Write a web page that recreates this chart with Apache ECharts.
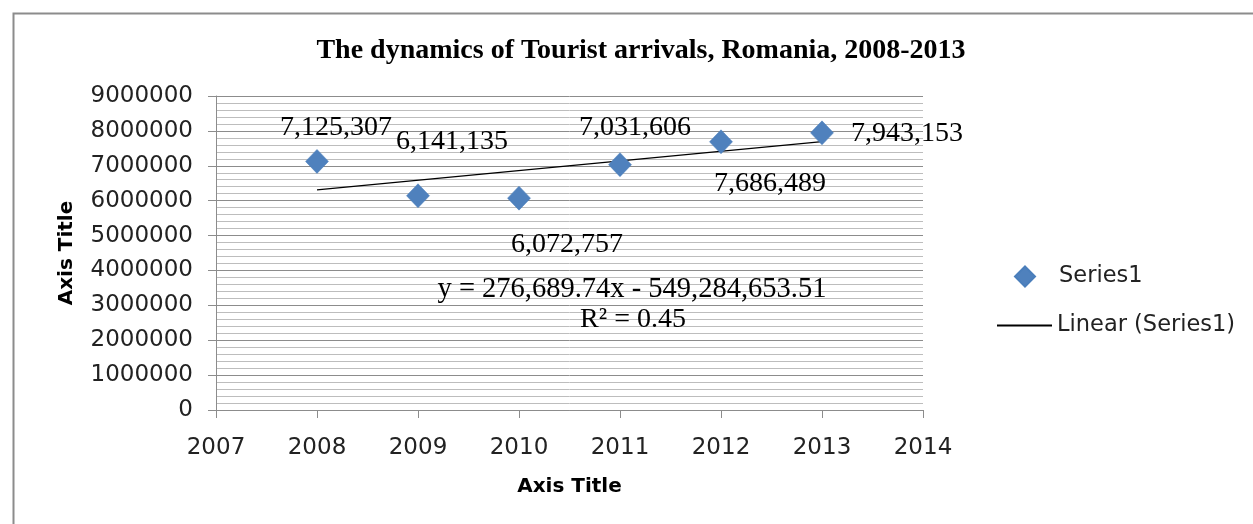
<!DOCTYPE html>
<html>
<head>
<meta charset="utf-8">
<script src="https://cdn.jsdelivr.net/npm/echarts@6/dist/echarts.min.js"></script>
<style>html,body{margin:0;padding:0;background:#fff;}#c{width:1253px;height:524px;}</style>
</head>
<body>
<div id="c"></div>
<script>
const years = [2008, 2009, 2010, 2011, 2012, 2013];
const arrivals = [7125307, 6141135, 6072757, 7031606, 7686489, 7943153];
const xTicks = [2007, 2008, 2009, 2010, 2011, 2012, 2013, 2014];
const yTicks = [0, 1000000, 2000000, 3000000, 4000000, 5000000, 6000000, 7000000, 8000000, 9000000];
const trendSlope = 276689.74;
const trendIntercept = -549284653.51;
const rSquared = 0.45;
const labelOffsets = [[19, -34], [34, -54], [48, 47], [15, -37], [49, 42], [85, 1]];

const fmt = v => v.toLocaleString('en-US');
const serif = "'Liberation Serif', 'Times New Roman', serif";
const sans = "'DejaVu Sans', sans-serif";

const scatterData = years.map((y, i) => ({
  value: [y, arrivals[i]],
  label: { offset: labelOffsets[i] }
}));
const trendData = [years[0], years[years.length - 1]].map(x => [x, trendSlope * x + trendIntercept]);

const chart = echarts.init(document.getElementById('c'));
chart.setOption({
  animation: false,
  backgroundColor: '#fff',
  title: {
    text: 'The dynamics of Tourist arrivals, Romania, 2008-2013',
    left: 636, top: 32, textAlign: 'center',
    textStyle: { fontFamily: serif, fontWeight: 'bold', fontSize: 28, color: '#000' }
  },
  grid: { left: 216, right: 330, top: 96, bottom: 114, containLabel: false },
  legend: [
    {
      data: [{ name: 'Series1', icon: 'diamond' }],
      left: 1014, top: 265, orient: 'vertical', padding: 0,
      itemWidth: 20, itemHeight: 20,
      textStyle: { fontFamily: sans, fontSize: 22.5, color: '#222', padding: [0, 0, 0, 19] }
    },
    {
      data: [{ name: 'Linear (Series1)', icon: 'rect' }],
      left: 997, top: 314, orient: 'vertical', padding: 0,
      itemWidth: 55, itemHeight: 2,
      textStyle: { fontFamily: sans, fontSize: 22.5, color: '#222' }
    }
  ],
  xAxis: {
    type: 'value', min: xTicks[0], max: xTicks[xTicks.length - 1], interval: 1,
    name: 'Axis Title', nameLocation: 'middle', nameGap: 67,
    nameTextStyle: { fontFamily: sans, fontWeight: 'bold', fontSize: 20, color: '#000' },
    axisLine: { show: true, lineStyle: { color: '#8c8c8c', width: 1 } },
    axisTick: { show: true, length: 8, lineStyle: { color: '#8c8c8c' } },
    axisLabel: { margin: 27, fontFamily: sans, fontSize: 23, color: '#222', formatter: v => String(v) },
    splitLine: { show: false }
  },
  yAxis: {
    type: 'value', min: yTicks[0], max: yTicks[yTicks.length - 1], interval: 1000000,
    name: 'Axis Title', nameLocation: 'middle', nameGap: 139, nameRotate: 90,
    nameTextStyle: { fontFamily: sans, fontWeight: 'bold', fontSize: 20, color: '#000' },
    axisLine: { show: true, lineStyle: { color: '#8c8c8c', width: 1 } },
    axisTick: { show: true, length: 8, lineStyle: { color: '#8c8c8c' } },
    axisLabel: { margin: 23, fontFamily: sans, fontSize: 23, color: '#222', formatter: v => String(v) },
    splitLine: { show: true, lineStyle: { color: '#8c8c8c', width: 1 } },
    minorTick: { show: false, splitNumber: 5 },
    minorSplitLine: { show: true, lineStyle: { color: '#bdbdbd', width: 1 } }
  },
  series: [
    {
      name: 'Series1', type: 'scatter', data: scatterData,
      symbol: 'diamond', symbolSize: [23, 24],
      itemStyle: { color: '#4F81BD', borderColor: '#4A7EBB', borderWidth: 0.5, opacity: 1 },
      label: {
        show: true, position: 'inside', align: 'center', verticalAlign: 'middle',
        fontFamily: serif, fontSize: 28, color: '#000',
        formatter: p => fmt(p.value[1])
      },
      z: 5
    },
    {
      name: 'Linear (Series1)', type: 'line', data: trendData,
      symbol: 'none', showSymbol: false,
      lineStyle: { color: '#000', width: 1.3 },
      itemStyle: { color: '#000' },
      z: 4
    }
  ],
  graphic: [
    {
      type: 'rect', left: 11, top: 11, silent: true, z: -10,
      shape: { width: 1300, height: 600 },
      style: { fill: 'none', stroke: '#8c8c8c', lineWidth: 2 }
    },
    {
      type: 'text', x: 632, y: 290, z: 10,
      style: {
        text: 'y = ' + fmt(trendSlope) + 'x - ' + fmt(-trendIntercept),
        font: '28.5px ' + serif, fill: '#000', align: 'center', verticalAlign: 'middle'
      }
    },
    {
      type: 'text', x: 633, y: 320, z: 10,
      style: {
        text: 'R\u00B2 = ' + rSquared.toFixed(2),
        font: '28px ' + serif, fill: '#000', align: 'center', verticalAlign: 'middle'
      }
    }
  ]
});
</script>
</body>
</html>
